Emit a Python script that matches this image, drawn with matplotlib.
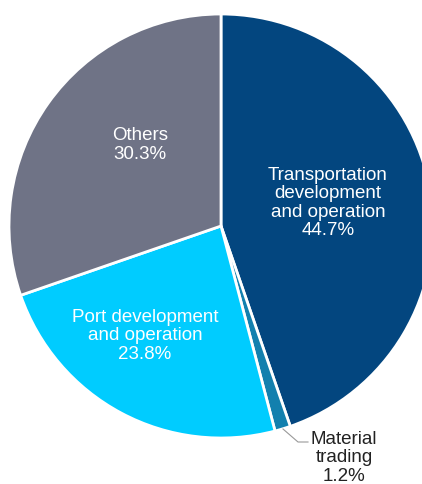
import numpy as np
import matplotlib
matplotlib.use('Agg')
from matplotlib import pyplot as plt

plt.rcParams['font.family'] = ['Liberation Sans', 'DejaVu Sans']

labels = ['Transportation\ndevelopment\nand operation', 'Material\ntrading',
          'Port development\nand operation', 'Others']
shares = [44.7, 1.2, 23.8, 30.3]
colors = ['#03467f', '#1380ae', '#00ccff', '#6f7386']

W, H = 422, 484
fig = plt.figure(figsize=(W / 100, H / 100), dpi=100)
ax = fig.add_axes([0, 0, 1, 1])

cx, cy, r = 221, H - 226, 212
ax.pie(shares, colors=colors, startangle=90, counterclock=False,
       center=(cx, cy), radius=r, frame=True,
       wedgeprops=dict(edgecolor='white', linewidth=2))
ax.set_xlim(0, W)
ax.set_ylim(0, H)
ax.set_aspect('equal')
ax.axis('off')

fs = 13.5
inside = {0: (328, 203), 2: (145, 336), 3: (140, 145)}
for i, (x, y) in inside.items():
    ax.text(x, H - y, '%s\n%.1f%%' % (labels[i], shares[i]), color='white',
            ha='center', va='center', fontsize=fs, linespacing=1.12)

ax.text(344, H - 458, '%s\n%.1f%%' % (labels[1], shares[1]), color='#222222',
        ha='center', va='center', fontsize=fs, linespacing=1.12)
ax.plot([283, 298, 308], [H - 429, H - 442, H - 442], color='#999999', lw=0.8)

fig.savefig('out.png', dpi=100)
